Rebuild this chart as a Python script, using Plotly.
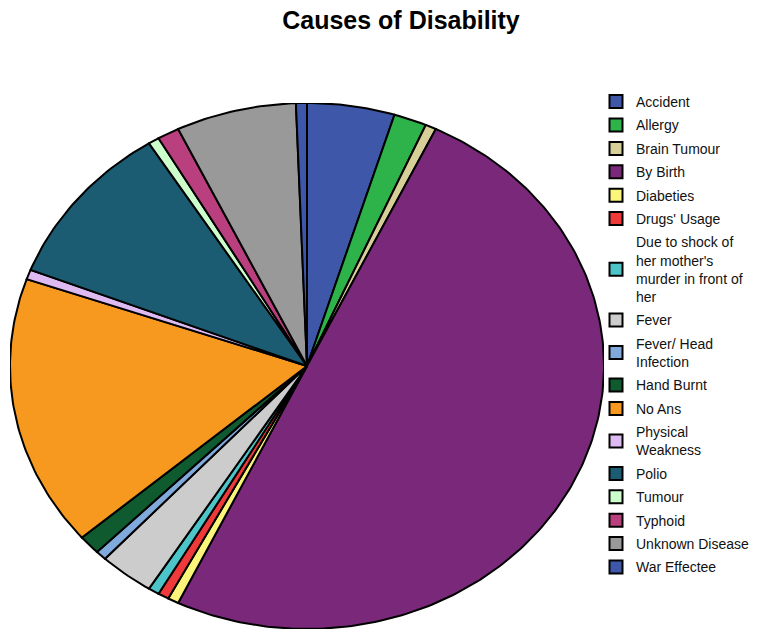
import numpy as np
import plotly.graph_objects as go

# Survey responses: cause of disability and number of respondents
causes = [
    "Accident", "Allergy", "Brain Tumour", "By Birth", "Diabeties",
    "Drugs' Usage", "Due to shock of<br>her mother's<br>murder in front of<br>her",
    "Fever", "Fever/ Head<br>Infection", "Hand Burnt", "No Ans",
    "Physical<br>Weakness", "Polio", "Tumour", "Typhoid",
    "Unknown Disease", "War Effectee",
]
counts = [8, 3, 1, 84, 1, 1, 1, 5, 1, 2, 28, 1, 17, 1, 2, 11, 1]
colors = [
    "#3F57A9", "#2DB34A", "#D6CF98", "#7A297A", "#FBF57A",
    "#EE3A3A", "#4CC4C8", "#CCCCCC", "#80AADB", "#0F5A2E", "#F7991E",
    "#DDBBF2", "#1C5C72", "#CCFFCC", "#BA3F7E", "#999999", "#3F57A9",
]

fig = go.Figure()

# Slices are drawn clockwise from 12 o'clock on a unit circle; the axes
# stretch it horizontally into an ellipse.
vals = np.array(counts, dtype=float)
edges = np.concatenate([[0.0], np.cumsum(vals)]) / vals.sum() * 2 * np.pi
for name, c, a0, a1 in zip(causes, colors, edges[:-1], edges[1:]):
    n = max(4, int(np.ceil((a1 - a0) / (2 * np.pi) * 400)))
    t = np.linspace(a0, a1, n)
    xs = np.concatenate([[0.0], np.sin(t), [0.0]])
    ys = np.concatenate([[0.0], np.cos(t), [0.0]])
    fig.add_trace(go.Scatter(
        x=xs, y=ys, mode="lines", fill="toself", fillcolor=c,
        line=dict(color="black", width=2), showlegend=False,
        hoverinfo="text", text=name.replace("<br>", " "),
    ))

# Legend swatches, one group per entry so the group gap spaces them out
for i, (name, c) in enumerate(zip(causes, colors)):
    fig.add_trace(go.Scatter(
        x=[None], y=[None], mode="markers", name=name,
        legendgroup=f"g{i:02d}",
        marker=dict(symbol="square", size=13, color=c,
                    line=dict(color="black", width=2)),
    ))

W, H = 776, 630
fig.update_layout(
    width=W, height=H,
    margin=dict(l=0, r=0, t=0, b=0),
    paper_bgcolor="white", plot_bgcolor="white",
    font=dict(family="Liberation Sans, Arial, sans-serif", color="black"),
    title=dict(text="<b>Causes of Disability</b>", x=401 / W, xanchor="center",
               y=1 - 20 / H, yanchor="middle",
               font=dict(size=25, color="black")),
    xaxis=dict(range=[-1, 1], domain=[10 / W, 604 / W], visible=False,
               fixedrange=True),
    yaxis=dict(range=[-1, 1], domain=[1 / H, 1 - 103 / H], visible=False,
               fixedrange=True),
    legend=dict(x=596 / W, xanchor="left", y=1 - 86 / H, yanchor="top",
                font=dict(size=14, color="#111111"), tracegroupgap=2.2,
                traceorder="grouped", itemclick=False,
                bgcolor="rgba(0,0,0,0)"),
)

fig.write_html("out.html")
